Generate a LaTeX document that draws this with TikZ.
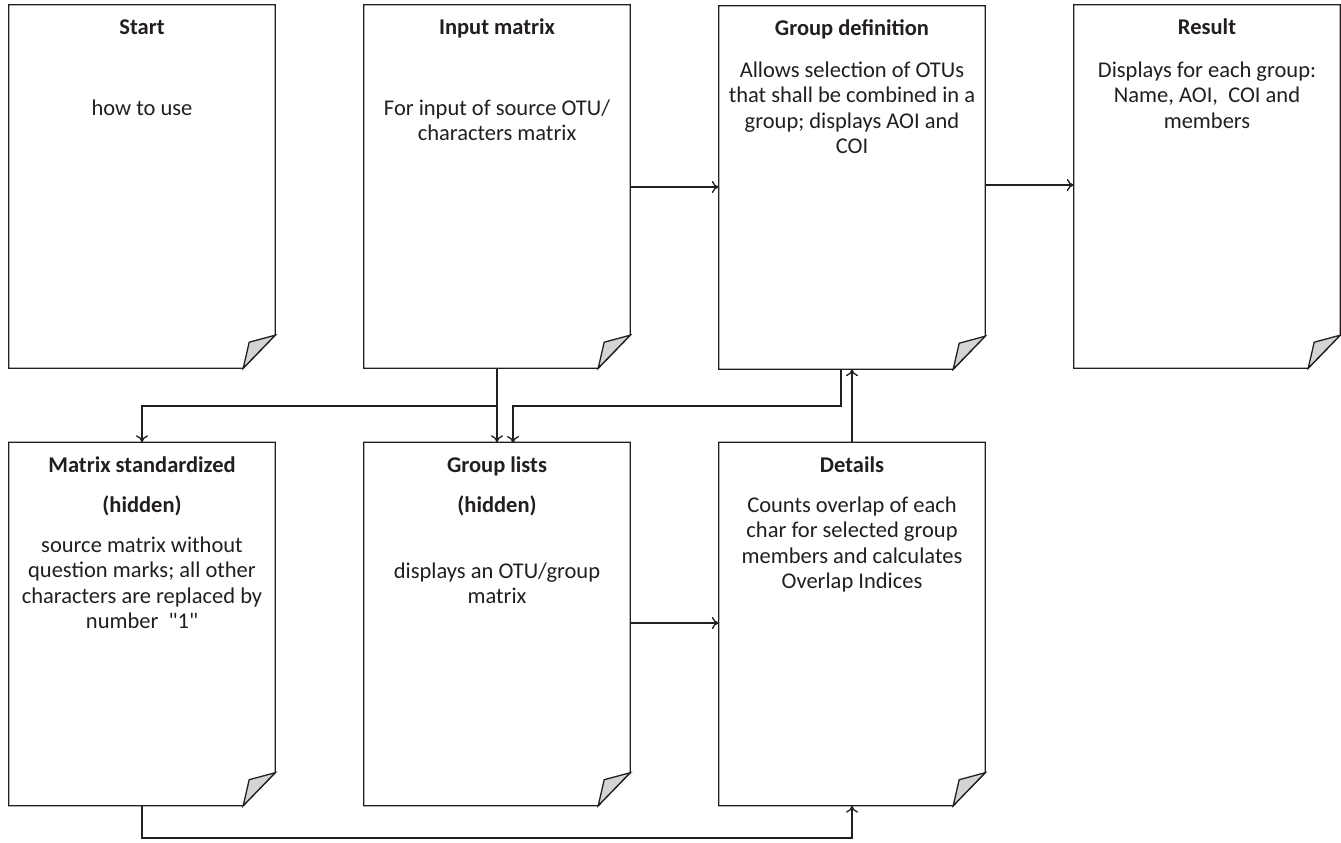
\documentclass[tikz,border=0pt]{standalone}
\usepackage{fontspec}
\setmainfont{Carlito}
\newfontfamily\qfont{Carlito}[Ligatures=TeXOff]
\usetikzlibrary{calc,arrows.meta}
\definecolor{ink}{HTML}{231F20}
\definecolor{foldgray}{HTML}{D4D4D4}
\tikzset{
  docbox/.style={draw=none, minimum width=266pt, minimum height=363pt, inner sep=0pt},
  docline/.style={draw=ink, line width=1.3pt, line join=miter},
  ttl/.style={font=\fontsize{22.5}{25.5}\selectfont\bfseries, text=ink, anchor=base, inner sep=0pt},
  txt/.style={font=\fontsize{22.5}{25.5}\selectfont, text=ink, anchor=base, inner sep=0pt},
  conn/.style={draw=ink, line width=1.3pt, -{To[length=7pt,width=12pt]}},
  plain/.style={draw=ink, line width=1.3pt},
}
\newcommand{\docframe}[1]{%
  \draw[docline, fill=white] (#1.north west) -- (#1.north east) -- ($(#1.south east)+(0,-33)$)
     -- ($(#1.south east)+(-32,0)$) -- (#1.south west) -- cycle;
  \draw[docline, fill=foldgray] ($(#1.south east)+(0,-33)$) -- ($(#1.south east)+(-26,-26)$)
     -- ($(#1.south east)+(-32,0)$) -- cycle;}
\begin{document}
\begin{tikzpicture}[x=1pt,y=-1pt]
\useasboundingbox (0,0) rectangle (1341,843);
% top row
\node[docbox] (start) at (142,186.5) {};
\node[docbox] (input) at (497,186.5) {};
\node[docbox] (gdef)  at (852,187.5) {};
\node[docbox] (res)   at (1207,186.5) {};
% bottom row
\node[docbox] (mstd)  at (142,624) {};
\node[docbox] (glist) at (497,624) {};
\node[docbox] (det)   at (852,624) {};
\foreach \n in {start,input,gdef,res,mstd,glist,det}{\docframe{\n}}
% texts (base anchor of a multi-line node = baseline of its last line)
\node[ttl] (t1) at (142,35) {Start};
\node[txt] (s1) at (142,115) {how to use};
\node[ttl] (t2) at (497,35) {Input matrix};
\node[txt, align=center] (s2) at (497,140.5) {For input of source OTU/\\characters matrix};
\node[ttl] (t3) at (852,36) {Group definition};
\node[txt, align=center] (s3) at (852,153.5) {Allows selection of OTUs\\that shall be combined in a\\group; displays AOI and\\COI};
\node[ttl] (t4) at (1207,35) {Result};
\node[txt, align=center] (s4) at (1207,128) {Displays for each group:\\Name, AOI,\ \ COI and\\members};
\node[ttl] (t5) at (142,472) {Matrix standardized};
\node[ttl] (h5) at (142,512) {(hidden)};
\node[txt, align=center] (s5) at (142,628.5) {source matrix without\\question marks; all other\\characters are replaced by\\number\ \ {\qfont"1"}};
\node[ttl] (t6) at (497,472) {Group lists};
\node[ttl] (h6) at (497,512) {(hidden)};
\node[txt, align=center] (s6) at (497,603.5) {displays an OTU/group\\matrix};
\node[ttl] (t7) at (852,472) {Details};
\node[txt, align=center] (s7) at (852,588.5) {Counts overlap of each\\char for selected group\\members and calculates\\Overlap Indices};
% connectors
\coordinate (j1) at (497,406);
\coordinate (j2) at (841,406);
\coordinate (b1) at (142,838);
\draw[conn] (input.east |- 0,187) -- (gdef.west |- 0,187);
\draw[conn] (gdef.east |- 0,185) -- (res.west |- 0,185);
\draw[plain] (input.south) -- (j1);
\draw[conn] (j1) -- (glist.north);
\draw[conn] (j1) -| (mstd.north);
\draw[conn] (gdef.south -| j2) -- (j2) -| (513,443);
\draw[conn] (det.north) -- (gdef.south);
\draw[conn] (glist.east |- 0,623) -- (det.west |- 0,623);
\draw[conn] (mstd.south) -- (b1) -| (det.south);
\end{tikzpicture}
\end{document}
